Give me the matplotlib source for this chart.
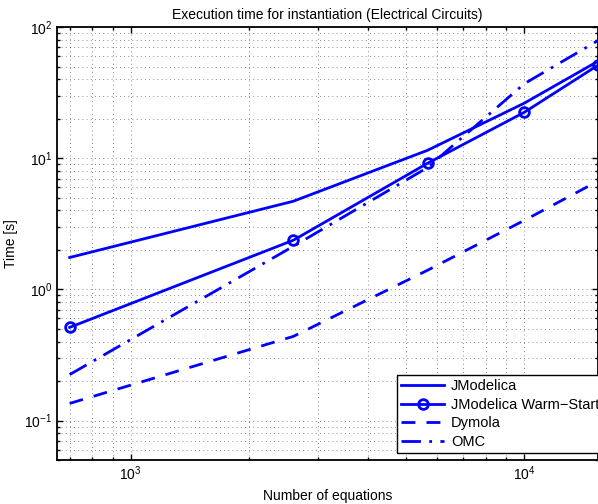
import matplotlib.pyplot as plt

plt.rcParams['font.family'] = ['Liberation Sans', 'DejaVu Sans']

# number of equations for each test model
equations = [700, 2590, 5680, 10000, 15400]

# instantiation times in seconds
jmodelica = [1.75, 4.7, 11.5, 26.3, 55.0]
jmodelica_warm = [0.513, 2.37, 9.16, 22.4, 51.3]
dymola = [0.135, 0.438, 1.4, 3.36, 6.7]
omc = [0.224, 2.13, 8.5, 37.0, 79.0]

fig = plt.figure(figsize=(5.98, 5.04), dpi=100)
ax = fig.add_axes([0.0953, 0.0873, 0.905, 0.859])

ax.loglog(equations, jmodelica, '-', color='blue', lw=2, label='JModelica')
ax.loglog(equations, jmodelica_warm, '-o', color='blue', lw=2, markersize=7,
          markerfacecolor='none', markeredgewidth=2, label='JModelica Warm\u2212Start')
ax.loglog(equations, dymola, '--', color='blue', lw=2, dashes=(5, 4), label='Dymola')
ax.loglog(equations, omc, '-.', color='blue', lw=2, dashes=(7, 3, 1, 3), label='OMC')

ax.set_xlim(650, 15400)
ax.set_ylim(0.05, 100)
ax.grid(True, which='both', linestyle=(0, (1, 4)), color='black', linewidth=0.6, alpha=0.6)
ax.tick_params(which='both', direction='in', top=True, right=True, labelsize=10, width=1)
ax.tick_params(which='major', length=4)
ax.tick_params(which='minor', length=2)
for s in ax.spines.values():
    s.set_linewidth(1.3)

ax.set_title('Execution time for instantiation (Electrical Circuits)', fontsize=10)
ax.set_xlabel('Number of equations', fontsize=10)
ax.set_ylabel('Time [s]', fontsize=10)

# legend box runs off the right edge like the original figure
leg = ax.legend(loc='lower left', bbox_to_anchor=(397 / 598, 51 / 504),
                bbox_transform=fig.transFigure, fontsize=10.5, fancybox=False,
                framealpha=1, edgecolor='black', handlelength=2.9, borderpad=0.3,
                labelspacing=0.3, borderaxespad=0, handletextpad=0.5)
leg.get_frame().set_linewidth(1.0)

plt.savefig('out.png', dpi=100)
plt.close()
